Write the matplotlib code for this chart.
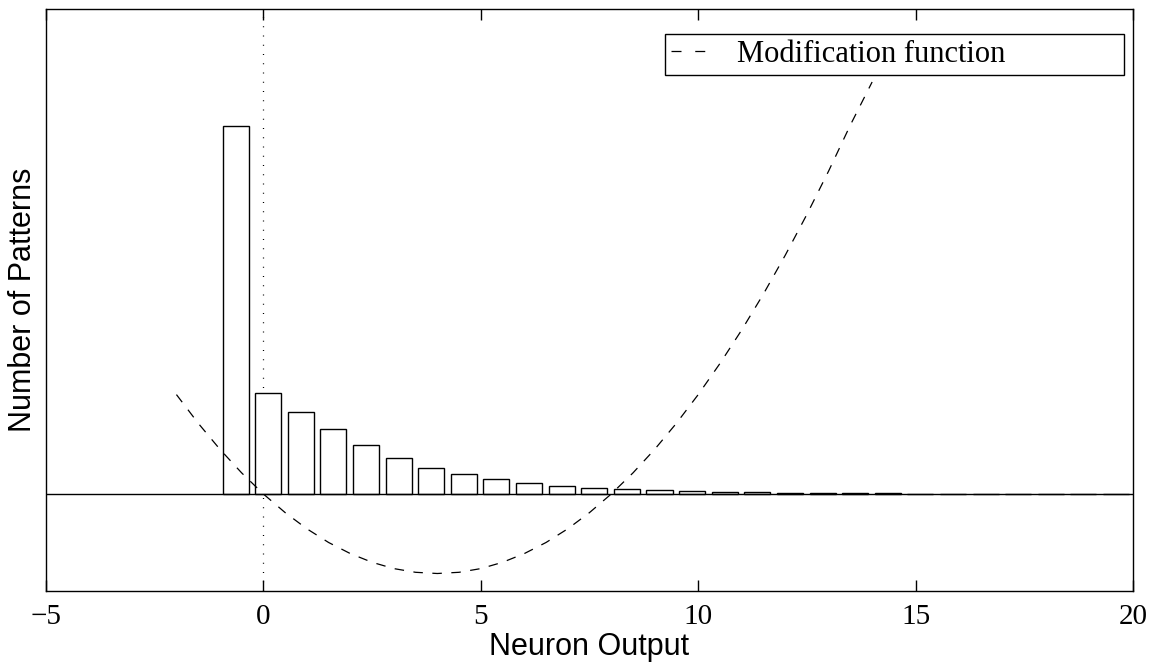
import matplotlib
matplotlib.use("Agg")
import matplotlib.pyplot as plt
import numpy as np

# histogram of neuron outputs (bin centres and counts)
bin_start = -0.64
bin_step = 0.75
counts = [368, 101, 82, 65, 49, 36, 26, 20, 15, 11, 8, 6, 5, 4, 3,
          2.5, 2, 1.5, 1, 0.8, 0.6, 0.5, 0.4, 0.3, 0.2, 0.2, 0.1, 0.1]
centres = bin_start + bin_step * np.arange(len(counts))

# modification function, sampled from the dashed curve
mod_x = [-2, -1.5, -1, -0.5, 0, 0.5, 1, 1.5, 2, 2.5, 3, 3.5, 4, 4.5, 5, 5.5,
         6, 6.5, 7, 7.5, 8, 8.5, 9, 9.5, 10, 10.5, 11, 11.5, 12, 12.5, 13,
         13.5, 14]
mod_y = [99.4, 70.8, 44.7, 21.1, 0, -18.6, -34.8, -48.5, -59.6, -68.3, -74.6,
         -78.3, -79.5, -78.3, -74.6, -68.3, -59.6, -48.5, -34.8, -18.6, 0,
         21.1, 44.7, 70.8, 99.4, 130.5, 164, 200, 238.6, 279.6, 323, 369, 412]

xticks = [-5, 0, 5, 10, 15, 20]

serif = "Liberation Serif"
sans = "Liberation Sans"

fig = plt.figure(figsize=(11.56, 6.66), dpi=100)
ax = fig.add_axes([46 / 1156, 1 - 591 / 666, 1087 / 1156, 582 / 666])

ax.bar(centres, counts, width=0.6, color="white", edgecolor="black",
       linewidth=1.0, zorder=2)
ax.axhline(0, color="black", linewidth=1.0, zorder=3)
ax.axvline(0, color="black", linewidth=0.9, dashes=(0.8, 6.6), zorder=1)
ax.plot(mod_x, mod_y, color="black", linewidth=0.9, dashes=(7.6, 7.6),
        label="Modification function", zorder=4)

ax.set_xlim(-5, 20)
ax.set_ylim(-97, 485)
ax.set_xticks(xticks)
ax.set_xticklabels([str(t).replace("-", "\u2212") for t in xticks],
                   fontfamily=serif, fontsize=21)
ax.set_yticks([])
ax.tick_params(axis="x", direction="in", length=8, width=1, top=True,
               pad=9)
for s in ax.spines.values():
    s.set_linewidth(1.0)

ax.set_xlabel("Neuron Output", fontfamily=sans, fontsize=22, labelpad=2)
ax.set_ylabel("Number of Patterns", fontfamily=sans, fontsize=22, labelpad=6)

leg = ax.legend(loc="upper left", bbox_to_anchor=(0.5695, 0.883, 0.4222, 0.074),
                mode="expand", borderaxespad=0, prop={"family": serif, "size": 22},
                handlelength=1.12, handletextpad=1.05, borderpad=0.2,
                fancybox=False, framealpha=1, edgecolor="black")
leg.get_frame().set_linewidth(1.0)
leg.get_lines()[0].set_dashes((8, 11))

fig.savefig("out.png", dpi=100)
